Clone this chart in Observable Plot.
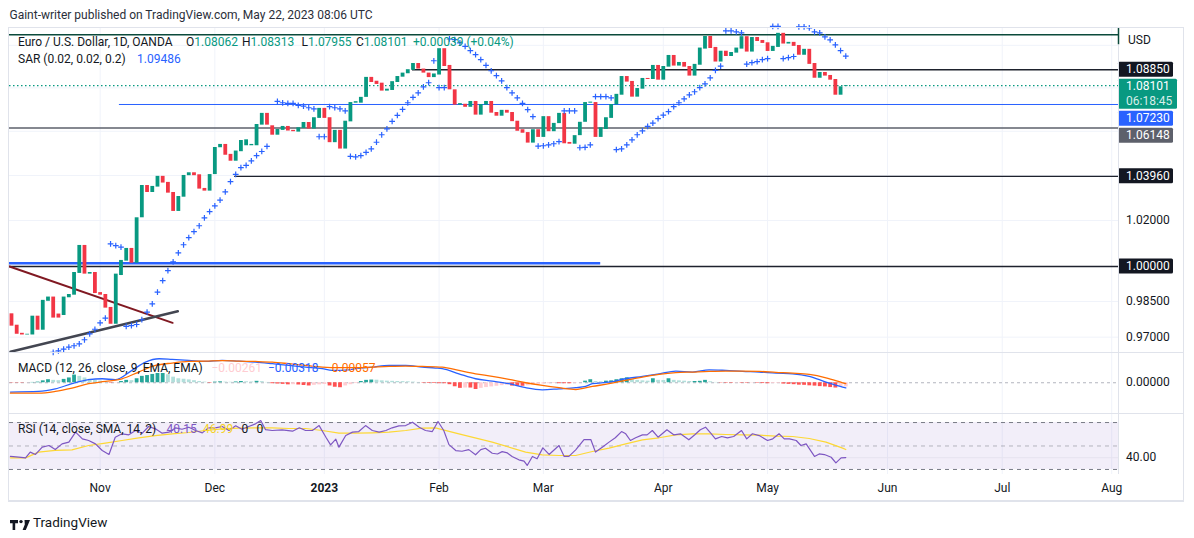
<!DOCTYPE html>
<html><head><meta charset="utf-8">
<script src="https://cdn.jsdelivr.net/npm/d3@7"></script>
<script src="https://cdn.jsdelivr.net/npm/@observablehq/plot@0.6"></script>
<style>
body{margin:0;background:#fff;font-family:Roboto,"Liberation Sans",sans-serif;color:#131722;}
#wrap{position:relative;width:1194px;height:538px;overflow:hidden;background:#fff;}
.abs{position:absolute;white-space:nowrap;font-size:12px;line-height:14px;}
</style></head><body><div id="wrap"></div>
<script>
// ---------- data (bar index 1 = 7 Oct 2022 ... 161 = 22 May 2023) ----------
const opens = [0.9798,0.9750,0.9716,0.9709,0.9709,0.9788,0.9729,0.9851,0.9869,0.9797,
 0.9791,0.9866,0.9877,0.9970,1.0091,0.9967,0.9974,0.9888,0.9880,0.9825,
 0.9754,0.9961,1.0023,1.0078,1.0014,1.0212,1.0355,1.0324,1.0348,1.0396,
 1.0369,1.0324,1.0240,1.0303,1.0399,1.0412,1.0403,1.0342,1.0330,1.0404,
 1.0525,1.0540,1.0495,1.0464,1.0507,1.0534,1.0534,1.0534,1.0628,1.0682,
 1.0625,1.0582,1.0604,1.0622,1.0604,1.0596,1.0613,1.0640,1.0610,1.0659,
 1.0705,1.0662,1.0548,1.0604,1.0519,1.0643,1.0729,1.0729,1.0756,1.0849,
 1.0831,1.0822,1.0785,1.0788,1.0825,1.0850,1.0866,1.0882,1.0914,1.0888,
 1.0869,1.0848,1.0860,1.0984,1.0905,1.0791,1.0720,1.0724,1.0710,1.0737,
 1.0674,1.0720,1.0737,1.0686,1.0669,1.0696,1.0686,1.0646,1.0607,1.0594,
 1.0546,1.0607,1.0572,1.0667,1.0598,1.0635,1.0682,1.0549,1.0541,1.0580,
 1.0641,1.0729,1.0732,1.0572,1.0608,1.0659,1.0721,1.0766,1.0853,1.0830,
 1.0757,1.0794,1.0844,1.0839,1.0905,1.0836,1.0897,1.0952,1.0902,1.0919,
 1.0900,1.0855,1.0906,1.0982,1.1042,1.0990,1.0921,1.0972,1.0947,1.0963,
 1.0982,1.1041,1.0968,1.1037,1.1023,1.1012,1.0971,1.0990,1.1057,1.1006,
 1.1014,1.0999,1.0953,1.0981,1.0914,1.0845,1.0872,1.0858,1.0839,1.0766,
 1.08062];
const closes = [0.9746,0.9712,0.9709,0.9712,0.9788,0.9729,0.9855,0.9869,0.9780,0.9780,
 0.9869,0.9880,0.9974,1.0091,0.9967,0.9974,0.9884,0.9877,0.9822,0.9754,
 0.9967,1.0026,1.0078,1.0014,1.0212,1.0355,1.0324,1.0351,1.0396,1.0366,
 1.0321,1.0240,1.0306,1.0400,1.0412,1.0399,1.0339,1.0330,1.0404,1.0526,
 1.0540,1.0491,1.0464,1.0510,1.0558,1.0561,1.0540,1.0631,1.0682,1.0628,
 1.0582,1.0608,1.0622,1.0601,1.0598,1.0616,1.0640,1.0610,1.0662,1.0705,
 1.0659,1.0548,1.0604,1.0519,1.0646,1.0732,1.0736,1.0756,1.0849,1.0825,
 1.0816,1.0785,1.0794,1.0829,1.0853,1.0869,1.0885,1.0914,1.0888,1.0869,
 1.0848,1.0865,1.0984,1.0900,1.0791,1.0720,1.0727,1.0710,1.0737,1.0674,
 1.0723,1.0737,1.0683,1.0669,1.0696,1.0683,1.0644,1.0600,1.0591,1.0546,
 1.0607,1.0572,1.0667,1.0598,1.0636,1.0682,1.0543,1.0541,1.0580,1.0641,
 1.0732,1.0734,1.0572,1.0616,1.0662,1.0723,1.0770,1.0853,1.0827,1.0757,
 1.0797,1.0844,1.0839,1.0905,1.0836,1.0900,1.0952,1.0902,1.0919,1.0897,
 1.0855,1.0910,1.0987,1.1042,1.0985,1.0921,1.0972,1.0947,1.0966,1.0987,
 1.1041,1.0968,1.1037,1.1018,1.1009,1.0971,1.0995,1.1057,1.1006,1.1014,
 1.0995,1.0953,1.0981,1.0910,1.0845,1.0872,1.0855,1.0836,1.0766,1.0805,
 1.08101];
const sar = [null,null,null,null,null,null,null,null,0.9637,0.9643,
 0.9650,0.9658,0.9664,0.9672,0.9689,0.9714,0.9733,0.9760,0.9780,1.0098,
 1.0090,1.0084,0.9745,0.9748,0.9753,0.9773,0.9805,0.9840,0.9890,0.9939,
 0.9982,1.0020,1.0059,1.0094,1.0125,1.0151,1.0177,1.0212,1.0239,1.0265,
 1.0290,1.0327,1.0372,1.0405,1.0435,1.0445,1.0466,1.0489,1.0508,1.0531,
 null,1.0737,1.0731,1.0728,1.0728,1.0719,1.0715,1.0708,1.0703,1.0575,
 1.0575,1.0713,1.0708,1.0703,1.0694,1.0486,1.0484,1.0489,1.0504,1.0520,
 1.0550,1.0584,1.0611,1.0645,1.0673,1.0700,1.0731,1.0756,1.0777,1.0805,
 1.0824,1.0927,1.0801,1.0801,1.1030,1.1027,1.1012,1.0995,1.0975,1.0956,
 1.0932,1.0905,1.0880,1.0857,1.0833,1.0801,1.0777,1.0754,1.0728,1.0699,
 1.0667,1.0532,1.0534,1.0538,1.0543,1.0553,1.0694,1.0694,1.0694,1.0525,
 1.0527,1.0538,1.0759,1.0759,1.0759,1.0754,1.0516,1.0520,1.0538,1.0561,
 1.0584,1.0602,1.0622,1.0637,1.0658,1.0674,1.0690,1.0713,1.0731,1.0749,
 1.0768,1.0782,1.0801,1.0819,1.0847,1.0882,1.0902,1.1069,1.1069,1.1064,
 1.1059,1.0911,1.0918,1.0923,1.0932,1.0937,1.1090,1.1090,1.0937,1.0942,
 1.0947,1.1088,1.1088,1.1083,1.1064,1.1059,1.1040,1.1026,1.1002,1.0975,
 1.09486];
const macdHist = [-0.0002,-0.0002,-0.0002,-0.0001,0.0002,0.0004,0.0012,0.0019,0.0015,0.0013,
 0.0021,0.0030,0.0048,0.0040,0.0030,0.0022,0.0015,0.0010,0.0005,-0.0003,
 -0.0002,0.0008,0.0015,0.0013,0.0025,0.0040,0.0045,0.0052,0.0058,0.0058,
 0.0050,0.0035,0.0025,0.0022,0.0018,0.0013,0.0008,0.0004,-0.0003,0.0004,
 0.0006,0.0004,0.0003,0.0005,0.0008,0.0006,0.0005,0.0009,0.0007,0.0002,
 -0.0006,-0.0008,-0.0010,-0.0013,-0.0012,-0.0014,-0.0017,-0.0020,-0.0016,-0.0013,
 -0.0011,-0.0020,-0.0028,-0.0031,-0.0020,-0.0012,-0.0005,0.0008,0.0015,0.0017,
 0.0016,0.0012,0.0010,0.0009,0.0008,0.0007,0.0006,0.0004,0.0002,-0.0003,
 -0.0004,-0.0004,-0.0006,-0.0006,-0.0012,-0.0025,-0.0035,-0.0033,-0.0033,-0.0042,
 -0.0035,-0.0030,-0.0026,-0.0022,-0.0018,-0.0015,-0.0021,-0.0022,-0.0022,-0.0019,
 -0.0013,-0.0010,-0.0008,-0.0006,-0.0004,-0.0006,-0.0006,-0.0006,-0.0004,-0.0001,
 0.0010,0.0019,0.0008,0.0006,0.0010,0.0012,0.0019,0.0025,0.0031,0.0019,
 0.0015,0.0012,0.0010,0.0025,0.0015,0.0014,0.0025,0.0015,0.0012,0.0010,
 0.0008,0.0008,0.0009,0.0015,0.0006,0.0002,-0.0002,-0.0003,-0.0003,-0.0002,
 -0.0003,-0.0003,-0.0002,-0.0003,-0.0005,-0.0006,-0.0005,-0.0004,-0.0008,-0.0010,
 -0.0012,-0.0015,-0.0016,-0.0019,-0.0021,-0.0024,-0.0026,-0.0030,-0.0033,-0.0028,
 -0.00261];
// sampled line values [bar index, value]
const macdLine = [[0.8,-0.0058],[6.2,-0.0054],[9.4,-0.0038],[12.6,-0.0006],[15.8,0.0019],[18.4,0.0025],[20.9,0.0019],[24.1,0.0077],[26.7,0.0129],[29.3,0.0150],[31.8,0.0146],[35,0.0140],[38.2,0.0133],[41.4,0.0140],[44.6,0.0135],[47.8,0.0129],[51,0.0119],[54.2,0.0108],[57.4,0.0098],[60.6,0.0088],[62.5,0.0077],[65.7,0.0081],[67,0.0088],[70.2,0.0098],[73.4,0.0108],[76.6,0.0108],[79.8,0.0098],[82.3,0.0092],[83.6,0.0088],[86.8,0.0056],[90,0.0025],[93.2,0.0010],[96.4,-0.0006],[99.6,-0.0031],[102.8,-0.0044],[106,-0.0038],[109.2,-0.0031],[111.1,-0.0023],[112.4,-0.0006],[115.6,0.0004],[118.8,0.0025],[122,0.0040],[125.2,0.0056],[128.4,0.0073],[131.6,0.0067],[134.8,0.0081],[138,0.0077],[141.2,0.0071],[144.4,0.0067],[147.6,0.0060],[150.8,0.0056],[154,0.0040],[157.2,0.0004],[160.4,-0.0027],[161,-0.00318]];
const signalLine = [[0.8,-0.0065],[6.2,-0.0065],[9.4,-0.0054],[12.6,-0.0033],[15.8,-0.0006],[19,0.0008],[22.2,0.0025],[25.4,0.0067],[28.6,0.0108],[31.8,0.0123],[35,0.0133],[38.2,0.0135],[41.4,0.0138],[44.6,0.0135],[47.8,0.0133],[51,0.0129],[54.2,0.0119],[57.4,0.0108],[60.6,0.0098],[63.8,0.0094],[67,0.0094],[70.2,0.0098],[73.4,0.0102],[76.6,0.0104],[79.8,0.0102],[83.6,0.0098],[86.8,0.0077],[90,0.0056],[93.2,0.0040],[96.4,0.0021],[99.6,0],[102.8,-0.0017],[106,-0.0031],[109.2,-0.0042],[112.4,-0.0023],[115.6,-0.0006],[118.8,0.0015],[122,0.0035],[125.2,0.0052],[128.4,0.0063],[131.6,0.0067],[134.8,0.0071],[138,0.0073],[141.2,0.0073],[144.4,0.0071],[147.6,0.0065],[150.8,0.0060],[154,0.0052],[157.2,0.0031],[160.4,0.0000],[161,-0.00057]];
const rsiLine = [[0.8,41.1],[2.4,40.5],[3.7,39.9],[4.6,44.8],[5.6,42.8],[6.9,49.0],[8.2,50.4],[9.4,47.0],[10.7,51.8],[12.0,53.3],[13.3,61.8],[14.6,56.1],[15.8,54.7],[17.1,51.8],[18.4,46.2],[19.7,42.8],[20.9,57.5],[22.2,60.4],[23.5,59.5],[24.8,63.2],[26.1,60.9],[27.3,66.6],[28.6,64.6],[29.9,60.9],[31.2,61.8],[32.5,65.5],[33.7,64.3],[35,66.0],[36.3,63.2],[37.6,61.2],[38.8,65.5],[40.1,65.5],[41.4,66.6],[42.7,63.2],[44,67.2],[45.2,64.3],[46.5,66.6],[47.8,68.9],[48.8,71.7],[49.7,64.0],[51,63.2],[52.9,63.8],[54.9,62.6],[56.2,65.5],[57.4,63.2],[58.7,63.2],[60,67.4],[61.3,57.5],[62.2,51.0],[63.2,55.8],[63.8,49.0],[65.1,58.9],[66.4,61.8],[67.6,62.3],[68.9,67.4],[70.2,63.2],[71.5,61.8],[72.8,63.2],[74,65.5],[75.3,67.2],[76.6,67.4],[77.9,70.3],[79.2,66.0],[80.4,63.2],[81.7,62.3],[82.8,70.9],[83.9,63.2],[84.9,51.2],[86.2,46.1],[87.4,45.5],[88.7,46.9],[90.0,42.5],[91.0,46.9],[91.9,48.1],[93.2,43.8],[94.2,43.2],[95.1,45.2],[96.1,44.1],[97.0,41.1],[98.3,38.2],[99.3,37.1],[99.9,33.4],[100.9,41.1],[101.8,39.1],[102.9,48.4],[104.1,42.8],[106.0,50.4],[107.0,41.1],[107.9,41.1],[109.2,46.7],[110.8,55.5],[112.1,55.5],[113.0,44.8],[114.3,49.0],[115.6,53.3],[116.8,57.0],[118.0,62.3],[118.8,60.4],[119.7,54.7],[120.7,57.0],[122.0,59.5],[122.9,59.5],[123.9,63.2],[125.0,57.5],[126.7,63.8],[128.0,59.5],[129.3,60.4],[130.9,55.3],[132.1,59.8],[133.1,63.8],[134.1,66.0],[135.1,60.9],[136.0,56.1],[137.2,58.1],[138.3,56.9],[139.5,58.1],[141.0,63.2],[142.0,56.1],[143.1,60.4],[144.4,58.9],[146.0,54.7],[147.0,56.1],[148.2,60.4],[149.2,56.1],[150.2,56.1],[151.5,54.7],[152.4,50.4],[153.4,51.8],[155.0,41.1],[155.9,43.2],[156.9,42.7],[158.2,40.4],[159.1,35.6],[160.1,39.9],[161,40.15]];
const rsiSma = [[0.8,39.9],[3.7,39.9],[6.2,44.8],[9.4,46.2],[12.6,46.7],[15.8,50.4],[19,52.4],[22.2,54.7],[25.4,57.0],[28.6,58.9],[31.8,60.4],[35,61.5],[38.2,63.2],[41.4,64.6],[44.6,65.2],[47.8,65.5],[51,65.5],[54.2,64.9],[57.4,64.9],[60.6,63.2],[63.8,60.9],[67,60.9],[70.2,61.2],[73.4,61.8],[76.6,63.2],[79.8,65.2],[82.3,65.5],[86.8,60.4],[93.2,53.3],[99.6,44.8],[102.8,42.5],[106,41.9],[109.2,41.9],[112.4,45.3],[115.6,48.2],[118.8,51.8],[122,55.2],[125.2,57.0],[128.4,59.5],[131.6,60.4],[134.8,60.4],[138,59.8],[141.2,59.5],[144.4,59.2],[147.6,58.4],[150.8,58.1],[154,56.4],[157.2,53.3],[160.4,48.2],[161,46.99]];
// axis ticks
const tickIdx = [18,40,61,83,103,126,146,169,191,212];
const tickLabels = ["Nov","Dec","2023","Feb","Mar","Apr","May","Jun","Jul","Aug"];
const priceGrid = [0.97,0.985,1.00,1.02,1.04,1.06,1.08,1.10];
const priceTickVals = [1.02,0.985,0.97];
const priceTickText = ["1.02000","0.98500","0.97000"];
// drawn horizontal levels: price, start / end bar index
const levelPrice = [1.1050,1.0885,1.0723,1.06148,1.0396,1.0000,1.0014];
const levelStart = [0.62,77.9,21.7,0.62,43.8,0.62,0.62];
const levelEnd   = [213.3,213.3,213.3,213.3,213.3,213.3,114];
const levelColor = ["#0b4a3b","#1e222d","#2962ff","#5d606b","#1e222d","#1e222d","#2962ff"];
const levelWidth = [1.5,1.5,1,1.5,1.2,1.5,2.6];
// trend lines [bar index, price]
const resistanceLine = [[0.62,1.0000],[31.9,0.9760]];
const supportLine = [[0.81,0.9639],[32.9,0.9809]];
const lastPrice = 1.08101;

// ---------- layout ----------
const FONT = "Roboto, 'Liberation Sans', sans-serif";
const W = 1175, MR = 66, PW = W - MR;
const xDom = [0.62, 213.3];
const wrap = document.getElementById("wrap");
const UP = "#089981", DN = "#f23645";
const bars = opens.map((o,k)=>({i:k+1, o, c:closes[k], s:sar[k], col: closes[k]>=o?UP:DN}));
const levels = levelPrice.map((p,k)=>({p, a:levelStart[k], b:levelEnd[k], col:levelColor[k], w:levelWidth[k]}));
const place = (el, top) => { el.style.position="absolute"; el.style.left="9px"; el.style.top=top+"px"; wrap.appendChild(el); return el; };
const common = {width:W, marginLeft:0, marginRight:MR, marginTop:0, marginBottom:0,
  style:{background:"transparent", overflow:"visible", fontFamily:FONT}, x:{domain:xDom, axis:null}, color:{type:"identity"}};
const gridX = Plot.ruleX(tickIdx, {stroke:"#f0f3fa"});

// price pane
const pricePlot = Plot.plot({...common, height:324,
  y:{type:"log", domain:[0.9636,1.1080], axis:null},
  marks:[
    gridX,
    Plot.ruleY(priceGrid, {stroke:"#f0f3fa"}),
    ...levels.map(l=>Plot.ruleY([l], {y:"p", x1:"a", x2:"b", stroke:l.col, strokeWidth:l.w})),
    Plot.ruleY([lastPrice], {x1:xDom[0], x2:xDom[1], stroke:UP, strokeDasharray:"1.5,2.5", strokeWidth:1.2}),
    Plot.line(resistanceLine, {x:d=>d[0], y:d=>d[1], stroke:"#801922", strokeWidth:2}),
    Plot.line(supportLine, {x:d=>d[0], y:d=>d[1], stroke:"#434651", strokeWidth:2.5}),
    Plot.ruleX(bars, {x:"i", y1:"o", y2:"c", stroke:"col", strokeWidth:3.8}),
    Plot.dot(bars.filter(d=>d.s!=null), {x:"i", y:"s", symbol:"plus", r:2.0, stroke:"#2962ff", strokeWidth:1.2})
  ]});
place(pricePlot, 28);

// MACD pane
const histData = macdHist.map((h,k)=>{const prev = k? macdHist[k-1] : h;
  const col = h>=0 ? (h>=prev?"#26a69a":"#b2dfdb") : (h<=prev?"#ff5252":"#ffcdd2");
  return {i:k+1, h, col};});
const macdPlot = Plot.plot({...common, height:61,
  y:{domain:[-0.0192,0.0189], axis:null},
  marks:[
    gridX,
    Plot.ruleY([0], {stroke:"#b2b5be", strokeDasharray:"3,3"}),
    Plot.ruleX(histData, {x:"i", y1:0, y2:"h", stroke:"col", strokeWidth:3.8}),
    Plot.line(macdLine, {x:d=>d[0], y:d=>d[1], stroke:"#2962ff", strokeWidth:1.3, curve:"monotone-x"}),
    Plot.line(signalLine, {x:d=>d[0], y:d=>d[1], stroke:"#ff6d00", strokeWidth:1.3, curve:"monotone-x"})
  ]});
place(macdPlot, 352);

// RSI pane
const rsiBand = [{a:xDom[0], b:xDom[1], lo:30, hi:70}];
const rsiPlot = Plot.plot({...common, height:61,
  y:{domain:[25.7,77.7], axis:null},
  marks:[
    gridX,
    Plot.rect(rsiBand, {x1:"a", x2:"b", y1:"lo", y2:"hi", fill:"#7e57c2", fillOpacity:0.1}),
    Plot.ruleY([40], {stroke:"#e6e3ef"}),
    Plot.ruleY([70,30], {stroke:"#787b86", strokeDasharray:"4,4"}),
    Plot.ruleY([50], {stroke:"#787b86", strokeOpacity:0.5, strokeDasharray:"4,4"}),
    Plot.line(rsiSma, {x:d=>d[0], y:d=>d[1], stroke:"#fdd835", strokeWidth:1.2}),
    Plot.line(rsiLine, {x:d=>d[0], y:d=>d[1], stroke:"#7e57c2", strokeWidth:1.2})
  ]});
place(rsiPlot, 413);

// time axis
const tickData = tickIdx.map((i,k)=>({i, t:tickLabels[k]}));
const axisPlot = Plot.plot({...common, height:28, y:{axis:null},
  marks:[
    Plot.text(tickData.filter(d=>d.t!=="2023"), {x:"i", text:"t", frameAnchor:"middle", fontSize:12, fill:"#131722"}),
    Plot.text(tickData.filter(d=>d.t==="2023"), {x:"i", text:"t", frameAnchor:"middle", fontSize:12, fontWeight:"bold", fill:"#131722"})
  ]});
place(axisPlot, 474);

// right price axis labels, positioned with the plot's own y scale
(function(){
  const ys = pricePlot.scale("y");
  const g = d3.select(pricePlot).append("g").attr("font-family", FONT).attr("font-size", 12).attr("text-anchor","start");
  // end marker of the top level line
  g.append("line").attr("x1", PW+0.5).attr("x2", PW+0.5).attr("y1", 0).attr("y2", ys.apply(levelPrice[0])+10)
    .attr("stroke", levelColor[0]).attr("stroke-width", 1.5);
  priceTickVals.forEach((v,k)=> g.append("text").attr("x", PW+8).attr("y", ys.apply(v)).attr("dy","0.35em").attr("fill","#131722").text(priceTickText[k]));
  g.append("text").attr("x", PW+10).attr("y", 12).attr("dy","0.35em").attr("fill","#131722").text("USD");
  const boxes = [
    {v:1.0885, lines:["1.08850"], bg:"#131722", w:55},
    {v:lastPrice, lines:["1.08101","06:18:45"], bg:UP, w:59},
    {v:1.0723, lines:["1.07230"], bg:"#2962ff", w:55},
    {v:1.06148, lines:["1.06148"], bg:"#5d606b", w:55},
    {v:1.0396, lines:["1.03960"], bg:"#131722", w:55},
    {v:1.0000, lines:["1.00000"], bg:"#131722", w:55}
  ];
  let prevBottom = -1e9;
  boxes.forEach(b=>{
    const h = b.lines.length*15;
    let top = ys.apply(b.v) - 7.5;
    if (top < prevBottom + 2) top = prevBottom + 2;
    prevBottom = top + h;
    g.append("rect").attr("x", PW).attr("y", top).attr("width", b.w).attr("height", h).attr("fill", b.bg).attr("rx", 1.5);
    b.lines.forEach((t,j)=> g.append("text").attr("x", PW+8).attr("y", top+7.5+j*15).attr("dy","0.35em")
      .attr("fill", j? "rgba(255,255,255,0.85)":"#fff").text(t));
  });
  const gm = d3.select(macdPlot).append("g").attr("font-family", FONT).attr("font-size", 12).attr("text-anchor","start");
  gm.append("text").attr("x", PW+8).attr("y", macdPlot.scale("y").apply(0)).attr("dy","0.35em").attr("fill","#131722").text("0.00000");
  const gr = d3.select(rsiPlot).append("g").attr("font-family", FONT).attr("font-size", 12).attr("text-anchor","start");
  gr.append("text").attr("x", PW+8).attr("y", rsiPlot.scale("y").apply(40)).attr("dy","0.35em").attr("fill","#131722").text("40.00");
})();

// chrome: frame, separators
function box(css){const d=document.createElement("div"); d.style.cssText="position:absolute;"+css; wrap.appendChild(d); return d;}
box("left:8px;top:27px;width:1176px;height:475px;border:1px solid #e0e3eb;border-bottom-width:2px;box-sizing:border-box;pointer-events:none;");
box("left:9px;top:352px;width:1175px;height:1px;background:#e0e3eb;");
box("left:9px;top:413px;width:1175px;height:1px;background:#e0e3eb;");
box("left:1118px;top:45px;width:1px;height:429px;background:#e0e3eb;");

// texts
function txt(x, yc, html, css){const d=document.createElement("div"); d.className="abs"; d.style.left=x+"px"; d.style.top=(yc-7)+"px"; if(css) d.style.cssText+=css; d.innerHTML=html; wrap.appendChild(d); return d;}
txt(9.5, 15, "Gaint-writer published on TradingView.com, May 22, 2023 08:06 UTC", "color:#2a2e39;");
const G = s=>`<span style="color:${UP}">${s}</span>`;
txt(18, 42, "Euro / U.S. Dollar, 1D, OANDA");
txt(186, 42, "O"+G("1.08062"));
txt(242, 42, "H"+G("1.08313"));
txt(301.5, 42, "L"+G("1.07955"));
txt(356, 42, "C"+G("1.08101"));
txt(413, 42, G("+0.00039 (+0.04%)"));
txt(18, 59, "SAR (0.02, 0.02, 0.2)");
txt(137, 59, '<span style="color:#2962ff">1.09486</span>');
txt(18, 368, "MACD (12, 26, close, 9, EMA, EMA)");
txt(211.5, 368, '<span style="color:#ffcdd2">−0.00261</span>');
txt(268, 368, '<span style="color:#2962ff">−0.00318</span>');
txt(325, 368, '<span style="color:#ff6d00">−0.00057</span>');
txt(18, 429, "RSI (14, close, SMA, 14, 2)");
txt(166.5, 429, '<span style="color:#7e57c2">40.15</span>');
txt(203, 429, '<span style="color:#f5d32a">46.99</span>');
txt(241.5, 429, "0");
txt(256.5, 429, "0");
// footer logo
const logo = box("left:10px;top:516px;width:24px;height:12px;");
logo.innerHTML = '<svg width="24" height="12" viewBox="0 0 24 12"><path d="M0 1h8v3.3H5.2V11H2.6V4.3H0z" fill="#131722"/><circle cx="11" cy="2.6" r="1.7" fill="#131722"/><path d="M14.5 1h5.5l-4.2 10h-3.2l2.2-5.4z" fill="#131722"/></svg>';
txt(33, 521.5, "TradingView", "font-size:13.5px;line-height:16px;top:513.5px;color:#131722;");
</script></body></html>
